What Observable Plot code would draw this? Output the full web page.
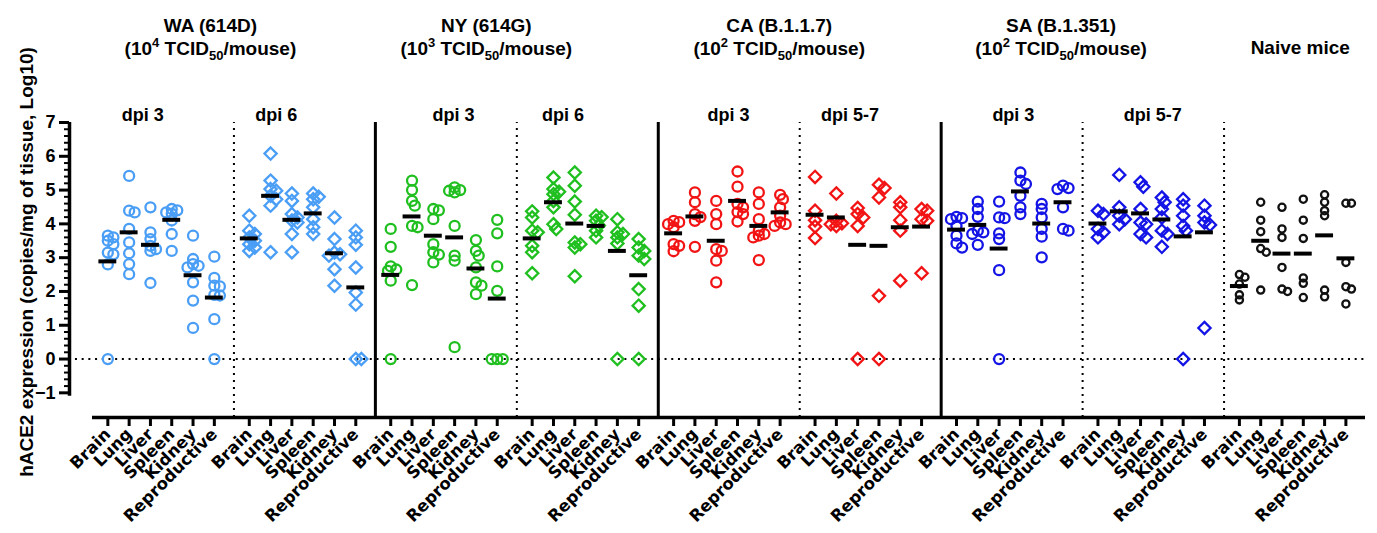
<!DOCTYPE html>
<html><head><meta charset="utf-8">
<script src="https://cdn.jsdelivr.net/npm/d3@7"></script>
<script src="https://cdn.jsdelivr.net/npm/@observablehq/plot@0.6"></script>
<style>body{margin:0;background:#fff}</style>
</head><body><div id="chart"></div>
<script>
// ---------- data ----------
const organs = ["Brain","Lung","Liver","Spleen","Kidney","Reproductive"];
const yTicks = [-1,0,1,2,3,4,5,6,7];
const yMinorTicks = d3.range(-1, 7, 0.2).map(v => +v.toFixed(1)).filter(v => !Number.isInteger(v));

const waD3 = [
 [3.65,3.6,3.5,3.4,3.15,3.1,2.8,0],
 [5.42,4.39,4.34,3.85,3.45,3.13,2.81,2.51],
 [4.49,3.75,3.55,3.35,3.25,3.2,2.25],
 [4.44,4.4,4.34,4.3,4.1,3.7,3.2],
 [3.65,2.96,2.81,2.76,2.71,2.27,1.73,0.92],
 [3.03,2.4,2.17,2.15,1.9,1.88,1.18,0]];
const waD3Mean = [2.89,3.75,3.38,4.12,2.48,1.82];

const waD6 = [
 [4.24,3.8,3.7,3.6,3.5,3.4,3.3,3.2],
 [6.08,5.28,5.03,4.98,4.83,4.73,4.54,3.16],
 [4.9,4.68,4.29,4.19,4.1,4.04,3.7,3.16],
 [4.9,4.8,4.73,4.49,4.14,3.9,3.7],
 [4.19,3.55,3.15,3.1,3.06,2.66,2.17],
 [3.8,3.6,3.38,2.71,1.97,1.61,0,0]];
const waD6Mean = [3.57,4.83,4.12,4.31,3.13,2.12];

const nyD3 = [
 [3.85,3.32,2.74,2.65,2.61,2.32,0],
 [5.28,5.0,4.68,4.54,3.94,3.9,2.19],
 [4.44,4.4,4.14,3.4,3.16,3.09,2.86],
 [5.08,5.0,4.98,4.93,3.94,3.06,2.91,0.35],
 [3.52,3.2,3.06,2.71,2.27,2.17,1.92],
 [4.12,3.72,2.74,2.02,0,0,0]];
const nyD3Mean = [2.49,4.22,3.65,3.6,2.68,1.79];

const nyD6 = [
 [4.37,4.19,3.8,3.75,3.35,3.16,2.54],
 [5.37,5.03,4.95,4.88,4.68,4.49,3.99,3.85],
 [5.52,5.13,4.66,4.27,3.45,3.4,3.3,2.45],
 [4.24,4.2,4.09,3.95,3.8,3.6],
 [4.14,3.75,3.7,3.6,3.42,0],
 [3.55,3.3,3.2,3.06,2.96,2.07,1.58,0]];
const nyD6Mean = [3.57,4.64,4.01,3.94,3.2,2.48];

const caD3 = [
 [4.09,4.05,3.99,3.9,3.4,3.35,3.19],
 [4.93,4.64,4.29,4.2,4.09,3.32],
 [4.68,4.29,3.99,3.25,3.2,2.91,2.27],
 [5.55,5.1,4.59,4.49,4.35,4.29,4.07],
 [4.93,4.59,4.14,3.8,3.7,3.65,3.6,2.93],
 [4.86,4.73,4.49,4.24,4.04,3.99,3.94]];
const caD3Mean = [3.72,4.22,3.5,4.68,3.94,4.34];

const caD57 = [
 [5.39,4.39,4.11,3.92,3.58],
 [4.9,4.09,4.02,3.99,3.94],
 [4.47,4.29,4.19,3.94,0],
 [5.16,5.06,4.78,1.87,0],
 [4.64,4.49,4.11,3.8,2.32],
 [4.44,4.39,4.14,4.09,2.54]];
const caD57Mean = [4.27,4.19,3.38,3.35,3.9,3.92];

const saD3 = [
 [4.21,4.17,4.14,3.94,3.65,3.42,3.3],
 [4.66,4.44,4.21,3.8,3.75,3.7,3.38],
 [4.66,4.19,4.17,3.72,3.55,2.63,0],
 [5.52,5.28,5.18,4.83,4.49,4.29],
 [4.59,4.44,4.19,3.85,3.62,3.01],
 [5.13,5.06,5.03,4.49,3.85,3.8]];
const saD3Mean = [3.83,3.97,3.27,4.96,4.01,4.64];

const saD57 = [
 [4.39,4.29,3.85,3.75,3.6],
 [5.45,4.49,4.24,4.14,3.99],
 [5.23,5.1,4.44,4.04,3.99,3.7,3.6],
 [4.78,4.64,4.44,4.19,3.8,3.7,3.32],
 [4.73,4.54,4.24,3.94,3.8,0],
 [4.54,4.24,4.04,3.97,0.92]];
const saD57Mean = [4.01,4.37,4.31,4.13,3.63,3.75];

const naive = [
 [2.5,2.42,2.22,1.9,1.75],
 [4.64,4.11,3.77,3.27,3.16,2.04],
 [4.49,3.85,3.6,2.71,2.07,2.0],
 [4.73,4.11,3.57,2.4,2.24,1.82],
 [4.86,4.64,4.39,4.24,2.04,1.84],
 [4.61,4.61,2.86,2.14,2.07,1.63]];
const naiveMean = [2.16,3.5,3.12,3.12,3.66,2.98];

const panelValues = [waD3, waD6, nyD3, nyD6, caD3, caD57, saD3, saD57, naive];
const panelMeans  = [waD3Mean, waD6Mean, nyD3Mean, nyD6Mean, caD3Mean, caD57Mean, saD3Mean, saD57Mean, naiveMean];
const panelStrain = ["WA","WA","NY","NY","CA","CA","SA","SA","Naive"];
const panelDpi    = ["dpi 3","dpi 6","dpi 3","dpi 6","dpi 3","dpi 5-7","dpi 3","dpi 5-7",""];
const strainNames = ["WA","NY","CA","SA","Naive"];
const strainTitle = ["WA (614D)","NY (614G)","CA (B.1.1.7)","SA (B.1.351)","Naive mice"];
const strainDoseExp = ["4","3","2","2",null];

// ---------- styles / layout ----------
const strainStyle = {
  WA:    {color:"#4a9ef5"},
  NY:    {color:"#1fbf1f"},
  CA:    {color:"#f21414"},
  SA:    {color:"#1414e6"},
  Naive: {color:"#111111"}
};
const late = new Set([1,3,5,7]);   // diamond panels
const dotted = [1,3,5,7,8];        // dotted panel boundaries
const solid = [2,4,6];             // solid boundaries
const dpiNudge = [-20,-28,8,-24,0,-20,2,0];   // px
const titleNudge = [-23,-30,-20,-21,6];        // px

const W = 6.64, OFF = 0.72;          // panel width in category units
const xPos = (p,i) => p*W + OFF + i;
const PXX = 21.3, PXY = 33.8;        // approx px per unit, for swarm spacing

function swarm(vals){
  const placed = [];
  return vals.map(v => {
    const cands = [0,0.13,-0.13,0.26,-0.26];
    let best = 0, bestD = -1;
    for (const c of cands){
      const d = placed.length ? d3.min(placed, q => Math.hypot((q.o-c)*PXX,(q.v-v)*PXY)) : Infinity;
      if (d >= 5){ best = c; bestD = d; break; }
      if (d > bestD){ bestD = d; best = c; }
    }
    placed.push({o:best, v});
    return best;
  });
}

const rows = [];
panelValues.forEach((pv,p) => pv.forEach((vals,i) => {
  const offs = swarm(vals);
  vals.forEach((v,k) => rows.push({p, i, v, x: xPos(p,i)+offs[k], strain: panelStrain[p], late: late.has(p)}));
}));
const means = [];
panelMeans.forEach((pm,p) => pm.forEach((m,i) => means.push({p,i,m,x:xPos(p,i)})));

const tickPos = [], tickLab = new Map();
for (let p=0;p<9;p++) for (let i=0;i<6;i++){ const x=xPos(p,i); tickPos.push(x); tickLab.set(x, organs[i]); }

const dotMarks = [];
for (const s of strainNames){
  const col = strainStyle[s].color;
  dotMarks.push(Plot.dot(rows.filter(d=>d.strain===s && !d.late), {x:"x", y:"v", stroke:col, r: s==="Naive"?3.6:5, strokeWidth:2.3, symbol:"circle"}));
  dotMarks.push(Plot.dot(rows.filter(d=>d.strain===s && d.late), {x:"x", y:"v", stroke:col, r:5.5, strokeWidth:2.3, symbol:"diamond2"}));
}

const XMAX = 9*W, YMIN = -1.73;
const plot = Plot.plot({
  width:1377, height:533,
  marginLeft:92, marginRight:12, marginTop:122, marginBottom:116,
  style:{fontFamily:"'Liberation Sans', Arial, sans-serif", background:"#fff", overflow:"visible"},
  x:{domain:[0,XMAX], axis:null},
  y:{domain:[YMIN,7], axis:null},
  marks:[
    Plot.ruleY([0], {x1:-0.8, x2:XMAX, stroke:"#000", strokeWidth:2, strokeDasharray:"2,4.7"}),
    Plot.ruleX(dotted.map(p=>p*W), {y1:YMIN, y2:7, stroke:"#000", strokeWidth:2, strokeDasharray:"2,5"}),
    Plot.ruleX(solid.map(p=>p*W), {y1:YMIN, y2:7, stroke:"#000", strokeWidth:3}),
    // y axis
    Plot.ruleX([0], {y1:-1.1, y2:7, dx:-23, stroke:"#000", strokeWidth:3.5}),
    Plot.axisY({ticks:yMinorTicks, tickSize:5, dx:-23, strokeWidth:2, tickFormat:()=>"", label:null}),
    Plot.axisY({ticks:yTicks, tickSize:10, dx:-23, strokeWidth:3, fontSize:18, fontWeight:"bold", tickPadding:4, label:null}),
    // x axis
    Plot.ruleY([YMIN], {x1:0, x2:XMAX, stroke:"#000", strokeWidth:3.5}),
    Plot.axisX({ticks:tickPos, tickFormat:d=>tickLab.get(d), tickRotate:-45, tickSize:9, strokeWidth:3,
      fontSize:16.5, fontWeight:"bold", fontFamily:"'DejaVu Sans', sans-serif", tickPadding:5, label:null}),
    ...dotMarks,
    Plot.ruleY(means, {y:"m", x1:d=>d.x-0.42, x2:d=>d.x+0.42, stroke:"#000", strokeWidth:4})
  ]
});

// ---------- header texts ----------
const xs = plot.scale("x");
const svg = d3.select(plot);
const g = svg.append("g").attr("font-family","'Liberation Sans', Arial, sans-serif").attr("font-weight","bold").attr("fill","#000").attr("text-anchor","middle");
const strainPanels = [[0,2],[2,4],[4,6],[6,8],[8,9]];
strainPanels.forEach(([a,b],k) => {
  const cx = (xs.apply(a*W)+xs.apply(b*W))/2 + titleNudge[k];
  if (strainDoseExp[k] === null){
    g.append("text").attr("x",cx).attr("y",54).attr("font-size",19).text(strainTitle[k]);
  } else {
    g.append("text").attr("x",cx).attr("y",32).attr("font-size",19).text(strainTitle[k]);
    const t = g.append("text").attr("x",cx).attr("y",55).attr("font-size",19);
    t.append("tspan").text("(10");
    t.append("tspan").attr("dy",-8).attr("font-size",13).text(strainDoseExp[k]);
    t.append("tspan").attr("dy",8).text(" TCID");
    t.append("tspan").attr("dy",5).attr("font-size",13).text("50");
    t.append("tspan").attr("dy",-5).text("/mouse)");
  }
});
panelDpi.forEach((lab,p) => {
  if (!lab) return;
  const cx = (xs.apply(p*W)+xs.apply((p+1)*W))/2 + dpiNudge[p];
  g.append("text").attr("x",cx).attr("y",121).attr("font-size",18).text(lab);
});
g.append("text").attr("transform","translate(33,262) rotate(-90)").attr("font-size",19).text("hACE2 expression (copies/mg of tissue, Log10)");

document.getElementById("chart").append(plot);
</script>
</body></html>
